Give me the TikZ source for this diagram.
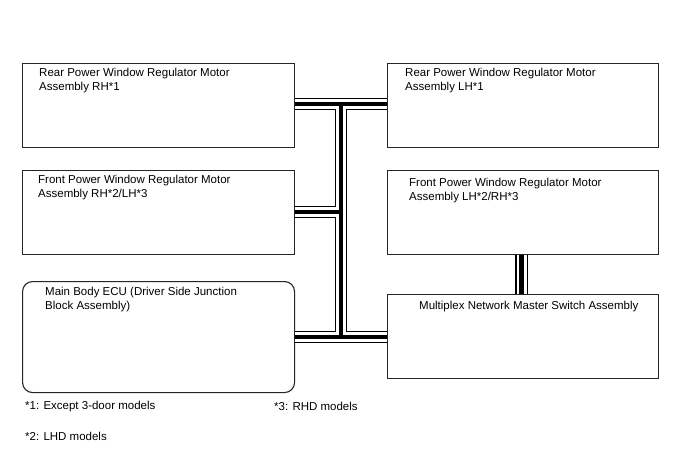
\documentclass[tikz,border=0pt]{standalone}
\usepackage{fontspec}
\setmainfont{Liberation Sans}
\usetikzlibrary{calc}
\begin{document}
\begin{tikzpicture}[x=1pt,y=-1pt,
  box/.style={draw=black!85, line width=1.1pt, anchor=north west, inner sep=0pt},
  txt/.style={anchor=north west, inner sep=0pt, align=left, font=\fontsize{11.5}{14}\selectfont},
  busout/.style={line width=12.6pt, black},
  busgap/.style={line width=10pt, white},
  buscore/.style={line width=4.3pt, black}]
\useasboundingbox[fill=white] (0,0) rectangle (688,463);
% boxes
\node[box, minimum width=272pt, minimum height=84pt] (A) at (22,63) {};
\node[box, minimum width=271pt, minimum height=84pt] (B) at (387,63) {};
\node[box, minimum width=272pt, minimum height=84pt] (C) at (22,170) {};
\node[box, minimum width=271pt, minimum height=84pt] (D) at (387,170) {};
\node[box, rounded corners=10pt, minimum width=272pt, minimum height=111pt] (E) at (22,281) {};
\node[box, minimum width=271pt, minimum height=84pt] (F) at (387,294) {};
% junction coordinates
\coordinate (j1) at (341,104);
\coordinate (j2) at (341,212);
\coordinate (j3) at (341,337);
\coordinate (j4) at (521.5,274);
% bus layers
\foreach \s in {busout,busgap,buscore}{
  \draw[\s] (A.east |- j1) -- (B.west |- j1);
  \draw[\s] (j1) -- (j3);
  \draw[\s] (C.east |- j2) -- (j2);
  \draw[\s] (E.east |- j3) -- (F.west |- j3);
  \draw[\s] (D.south -| j4) -- (F.north -| j4);
}
% texts
\node[txt] (At) at (39,68) {Rear Power Window Regulator Motor\\Assembly RH*1};
\node[txt] (Bt) at (405,68) {Rear Power Window Regulator Motor\\Assembly LH*1};
\node[txt] (Ct) at (38,175) {Front Power Window Regulator Motor\\Assembly RH*2/LH*3};
\node[txt] (Dt) at (409,178) {Front Power Window Regulator Motor\\Assembly LH*2/RH*3};
\node[txt] (Et) at (45,287) {Main Body ECU (Driver Side Junction\\Block Assembly)};
\node[txt] (Ft) at (419,301) {Multiplex Network Master Switch Assembly};
\node[txt] (n1) at (25,401) {*1: Except 3-door models};
\node[txt] (n3) at (274,402) {*3: RHD models};
\node[txt] (n2) at (25,432) {*2: LHD models};
\end{tikzpicture}
\end{document}
